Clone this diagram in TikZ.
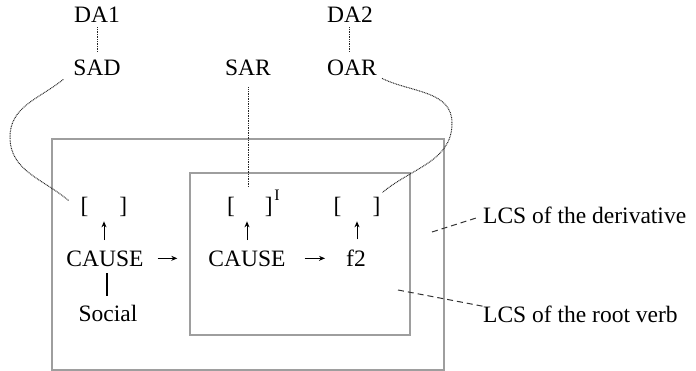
\documentclass[tikz,border=0pt]{standalone}
\usepackage{fontspec}
\setmainfont{Liberation Serif}
\usetikzlibrary{arrows.meta}
\begin{document}
\begin{tikzpicture}[x=1pt,y=1pt,
  txt/.style={font=\fontsize{23.5}{28}\selectfont, inner sep=0pt, anchor=base},
  suptxt/.style={font=\fontsize{16}{18}\selectfont, inner sep=0pt, anchor=base},
  boxline/.style={draw=black!38, line width=1.3pt},
  dotline/.style={draw=black!85, line width=1pt, dash pattern=on 0.9pt off 0.8pt},
  dashline/.style={draw=black!80, line width=1pt, dash pattern=on 6pt off 4pt},
  solidline/.style={draw=black, line width=1.2pt},
  arr/.style={draw=black, line width=0.9pt, -{Stealth[length=6pt,width=5pt]}}]
\useasboundingbox (0,0) rectangle (696,-371);

% boxes
\draw[boxline] (52,-139) rectangle (444,-370);
\draw[boxline] (190,-173) rectangle (410,-335);

% texts
\node[txt] (da1) at (97,-23) {DA1};
\node[txt] (sad) at (97,-76) {SAD};
\node[txt] (sar) at (248,-76) {SAR};
\node[txt] (da2) at (350,-23) {DA2};
\node[txt] (oar) at (352,-76) {OAR};
\node[txt] (b1) at (104,-214) {[\hspace{31pt}]};
\node[txt] (b2) at (250,-214) {[\hspace{30pt}]};
\node[suptxt] (sup) at (277,-201) {I};
\node[txt] (b3) at (357,-214) {[\hspace{31pt}]};
\node[txt] (c1) at (105,-267) {CAUSE};
\node[txt] (c2) at (247,-267) {CAUSE};
\node[txt] (f2) at (356,-267) {f2};
\node[txt] (soc) at (108,-321) {Social};
\node[txt, anchor=base west] (l1) at (483,-224) {LCS of the derivative};
\node[txt, anchor=base west] (l2) at (483,-323) {LCS of the root verb};

% free ends of the label pointers
\coordinate (d1) at (432,-232);
\coordinate (d2) at (398,-290);

% dotted links
\draw[dotline, shorten <=4pt, shorten >=8pt] (da1.south) -- (da1.south |- sad.north);
\draw[dotline, shorten <=4pt, shorten >=8pt] ([xshift=-1pt]da2.south) -- ([xshift=-1pt]da2.south |- oar.north);
\draw[dotline, shorten <=11pt, shorten >=10pt] (sar.south) -- (sar.south |- b2.north);
\draw[dotline] ([shift={(-10,-3)}]sad.south west) to[out=219,in=90] (10,-137)
  to[out=-90,in=140] ([shift={(-12,7)}]b1.west);
\draw[dotline] ([shift={(5,-2)}]oar.south east) to[out=-26,in=90] (452,-123)
  to[out=-90,in=40] ([shift={(2,15)}]b3.east);

% arrows
\draw[arr, shorten <=11pt, shorten >=4pt] ([xshift=-1pt]c1.north) -- ([xshift=-1pt]c1.north |- b1.south);
\draw[arr, shorten <=11pt, shorten >=4pt] (c2.north) -- (c2.north |- b2.south);
\draw[arr, shorten <=11pt, shorten >=4pt] ([xshift=1pt]f2.north) -- ([xshift=1pt]f2.north |- b3.south);
\draw[arr, shorten <=14pt, shorten >=31pt] ([yshift=1pt]c1.east) -- ([yshift=1pt]c2.west);
\draw[arr, shorten <=19pt, shorten >=21pt] ([yshift=1pt]c2.east) -- ([yshift=1pt]c2.east -| f2.west);
\draw[solidline, shorten <=6pt, shorten >=8pt] ([xshift=2pt]c1.south) -- ([xshift=2pt]c1.south |- soc.north);

% label pointers
\draw[dashline, shorten >=6pt] (d1) -- (l1.west);
\draw[dashline] (d2) -- (l2.north west);
\end{tikzpicture}
\end{document}
